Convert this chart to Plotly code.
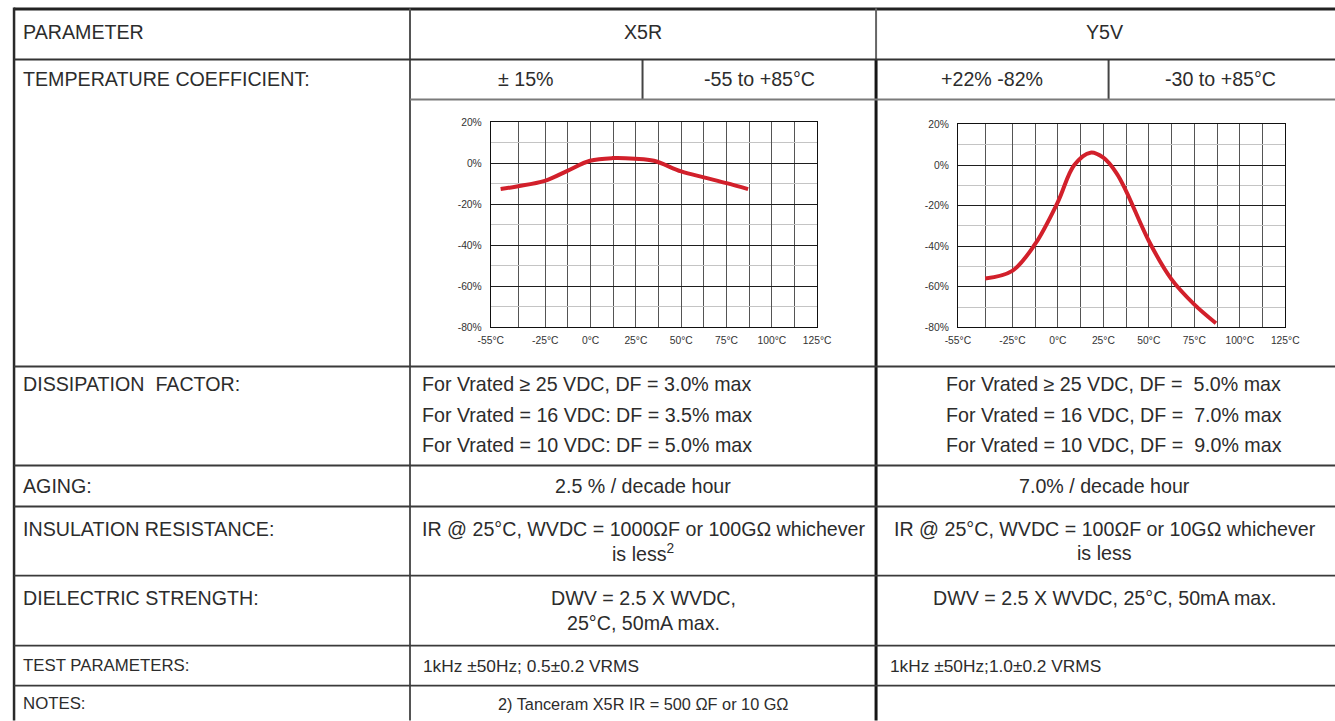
import plotly.graph_objects as go

W, H = 1335, 721

# ---------------- data ----------------
x5r_temp = [-49.6, -40.7, -25.3, -12.8, -0.3, 12.1, 24.6, 34.9, 50.0, 62.5, 75.0, 86.9]
x5r_cap = [-12.5, -11.2, -8.5, -3.6, 1.3, 2.6, 2.3, 1.3, -3.9, -6.8, -9.6, -12.5]
y5v_temp = [-40.0, -25.1, -12.6, -0.2, 9.0, 17.9, 25.0, 32.1, 37.5, 50.0, 62.4, 74.8, 86.9]
y5v_cap = [-55.9, -52.1, -39.0, -18.5, 0.0, 6.1, 3.6, -3.8, -12.8, -37.4, -56.2, -68.5, -77.9]

x_tick_vals = [-55, -25, 0, 25, 50, 75, 100, 125]
x_tick_text = ["-55°C", "-25°C", "0°C", "25°C", "50°C", "75°C", "100°C", "125°C"]
x_minor_vals = [-40, -12.5, 12.5, 37.5, 62.5, 87.5, 112.5]
y_tick_vals = [-80, -60, -40, -20, 0, 20]
y_tick_text = ["-80%", "-60%", "-40%", "-20%", "0%", "20%"]
y_minor_vals = [-70, -50, -30, -10, 10]

row_labels = ["PARAMETER", "TEMPERATURE COEFFICIENT:", "DISSIPATION\u00a0 FACTOR:", "AGING:",
              "INSULATION RESISTANCE:", "DIELECTRIC STRENGTH:", "TEST PARAMETERS:", "NOTES:"]
col_headers = ["X5R", "Y5V"]
x5r_tc = ["± 15%", "-55 to +85°C"]
y5v_tc = ["+22% -82%", "-30 to +85°C"]
x5r_df = ["For Vrated ≥ 25 VDC, DF = 3.0% max",
          "For Vrated = 16 VDC: DF = 3.5% max",
          "For Vrated = 10 VDC: DF = 5.0% max"]
y5v_df = ["For Vrated ≥ 25 VDC, DF =\u00a0 5.0% max",
          "For Vrated = 16 VDC, DF =\u00a0 7.0% max",
          "For Vrated = 10 VDC, DF =\u00a0 9.0% max"]
aging = ["2.5 % / decade hour", "7.0% / decade hour"]
x5r_ir = ["IR @ 25°C, WVDC = 1000ΩF or 100GΩ whichever", "is less<sup>2</sup>"]
y5v_ir = ["IR @ 25°C, WVDC = 100ΩF or 10GΩ whichever", "is less"]
x5r_ds = ["DWV = 2.5 X WVDC,", "25°C, 50mA max."]
y5v_ds = ["DWV = 2.5 X WVDC, 25°C, 50mA max."]
test_params = ["1kHz ±50Hz; 0.5±0.2 VRMS", "1kHz ±50Hz;1.0±0.2 VRMS"]
notes = ["2) Tanceram X5R IR = 500 ΩF or 10 GΩ", ""]

# ---------------- helpers (picture position -> paper fraction) ----------------
BX, SX = 12.2, 0.981
BY, SY = 5.6, 0.9845
FS = 1 / 0.982

def px(x):
    v = ((x - BX) / SX) / W
    return max(0.0008, v)

def py(y):
    return 1 - ((y - BY) / SY) / H

FONT = "Liberation Sans, Arial, sans-serif"
TXT = "#2c2c2c"

fig = go.Figure()

fig.add_trace(go.Scatter(x=x5r_temp, y=x5r_cap, mode="lines", line=dict(color="#d2202b", width=4, shape="spline"),
                         xaxis="x", yaxis="y", showlegend=False, hoverinfo="skip"))
fig.add_trace(go.Scatter(x=y5v_temp, y=y5v_cap, mode="lines", line=dict(color="#d2202b", width=4, shape="spline"),
                         xaxis="x2", yaxis="y2", showlegend=False, hoverinfo="skip"))

def xaxis_cfg(dom, anchor):
    return dict(domain=dom, anchor=anchor, range=[-55, 125], tickmode="array", tickvals=x_tick_vals,
                ticktext=x_tick_text, showgrid=True, gridcolor="#555555", gridwidth=1,
                minor=dict(tickmode="array", tickvals=x_minor_vals, showgrid=True, gridcolor="#555555", gridwidth=1),
                showline=True, linecolor="#111111", linewidth=1, mirror=True, zeroline=False,
                ticks="", ticklabelstandoff=3, tickfont=dict(family=FONT, size=10.3, color="#333333"),
                fixedrange=True)

def yaxis_cfg(dom, anchor):
    return dict(domain=dom, anchor=anchor, range=[-80, 20], tickmode="array", tickvals=y_tick_vals,
                ticktext=y_tick_text, showgrid=True, gridcolor="#1e1e1e", gridwidth=1,
                minor=dict(tickmode="array", tickvals=y_minor_vals, showgrid=True, gridcolor="#c4c4c4", gridwidth=1),
                showline=True, linecolor="#111111", linewidth=1, mirror=True, zeroline=False,
                ticks="", ticklabelstandoff=6, tickfont=dict(family=FONT, size=10.3, color="#333333"),
                fixedrange=True)

fig.update_layout(
    autosize=True, margin=dict(l=0, r=0, t=0, b=0, pad=0),
    paper_bgcolor="white", plot_bgcolor="white",
    xaxis=xaxis_cfg([px(491), px(818)], "y"),
    yaxis=yaxis_cfg([py(328), py(123)], "x"),
    xaxis2=xaxis_cfg([px(959), px(1287)], "y2"),
    yaxis2=yaxis_cfg([py(328), py(125)], "x2"),
)

# ---------------- table lines ----------------
shapes = []
def hline(y, x0, x1, w, c):
    shapes.append(dict(type="line", xref="paper", yref="paper", x0=px(x0), x1=min(1.02, px(x1)), y0=py(y), y1=py(y),
                       line=dict(color=c, width=w), layer="above"))
def vline(x, y0, y1, w, c):
    shapes.append(dict(type="line", xref="paper", yref="paper", x0=px(x), x1=px(x), y0=py(y0), y1=min(0.0, py(y1)) if y1 >= H else py(y1),
                       line=dict(color=c, width=w), layer="above"))

hline(9.5, 9, W + 20, 3, "#222222")
vline(10.5, 8, H, 2.5, "#2a2a2a")
vline(410, 9, H, 2, "#555555")
vline(877, 9, 60, 2, "#666666")
vline(877, 60, H, 3, "#161616")
vline(643, 60, 100, 2, "#444444")
vline(1110, 60, 100, 2, "#444444")
hline(60, 10, W + 20, 2, "#333333")
hline(100, 410, W + 20, 2, "#7a7a7a")
for yy in [367, 466, 507, 576, 646, 686]:
    hline(yy, 10, W + 20, 1.8, "#3a3a3a")
fig.update_layout(shapes=shapes)

# ---------------- texts ----------------
ann = []
def text(s, x, y, size=19.3, anchor="center"):
    ann.append(dict(text=s, x=px(x), y=py(y), xref="paper", yref="paper", showarrow=False,
                    xanchor=anchor, yanchor="middle", align=anchor if anchor != "center" else "center",
                    font=dict(family=FONT, size=size * FS, color=TXT)))

label_y = [33, 80, 385, 486, 529, 598, 666, 704]
label_sz = [19.3, 19.3, 19.3, 19.3, 19.3, 19.3, 16.5, 16.5]
for s, y, sz in zip(row_labels, label_y, label_sz):
    text(s, 20, y, sz, "left")

text(col_headers[0], 643.5, 33)
text(col_headers[1], 1106, 33)
text(x5r_tc[0], 526.5, 80)
text(x5r_tc[1], 760, 80)
text(y5v_tc[0], 993.5, 80)
text(y5v_tc[1], 1222, 80)

for i, s in enumerate(x5r_df):
    text(s, 420, 385 + 30 * i, anchor="left")
for i, s in enumerate(y5v_df):
    text(s, 945, 385 + 30 * i, anchor="left")

text(aging[0], 643.5, 486)
text(aging[1], 1106, 486)

for i, s in enumerate(x5r_ir):
    text(s, 643.5, 529 + 24 * i)
for i, s in enumerate(y5v_ir):
    text(s, 1106, 529 + 24 * i)

for i, s in enumerate(x5r_ds):
    text(s, 643.5, 598 + 25 * i)
for i, s in enumerate(y5v_ds):
    text(s, 1106, 598 + 25 * i)

text(test_params[0], 421, 666, 17, "left")
text(test_params[1], 889, 666, 17, "left")
text(notes[0], 643.5, 704, 16)

fig.update_layout(annotations=ann)

fig.write_html("out.html",
               config={"displayModeBar": False, "responsive": False},
               default_width="%dpx;position:fixed;left:0;top:0" % W,
               default_height="%dpx" % H)
